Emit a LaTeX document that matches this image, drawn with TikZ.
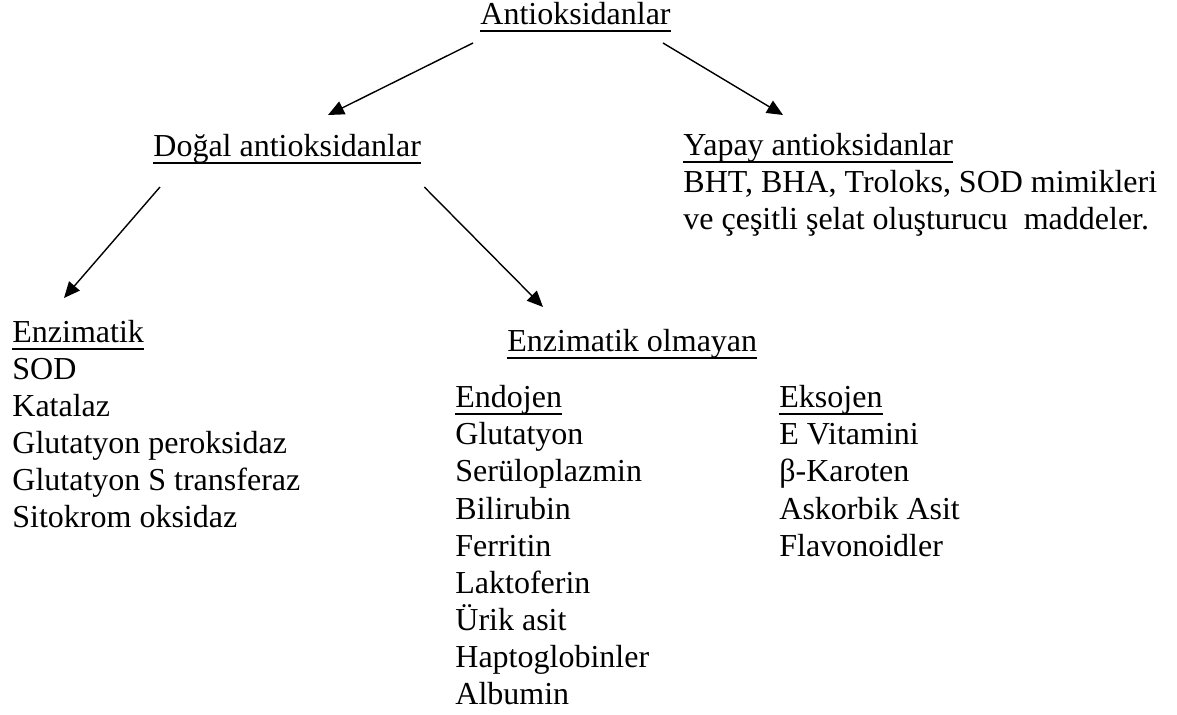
\documentclass[tikz,border=0pt]{standalone}
\usepackage{fontspec}
\setmainfont{Liberation Serif}
\usepackage{tikz}
\usetikzlibrary{arrows.meta}
\newsavebox\ulbox
\newcommand\ulin[1]{\sbox\ulbox{#1}\rlap{\rule[-3.3pt]{\wd\ulbox}{0.9pt}}\usebox\ulbox}

\begin{document}
\begin{tikzpicture}[x=0.5pt,y=-0.5pt,
    lbl/.style={anchor=base west,inner sep=0pt,font=\fontsize{16}{18.5}\selectfont},
    arr/.style={-{Triangle[length=8pt,width=7pt]},line width=0.7pt}]
  \useasboundingbox (0,0) rectangle (1177,715);

  % headings
  \node[lbl] (antiox) at (480,25) {\ulin{Antioksidanlar}};
  \node[lbl] (dogal) at (153,157) {\ulin{Doğal antioksidanlar}};
  \node[lbl] (yapay) at (683,156) {\ulin{Yapay antioksidanlar}};
  \node[lbl] (enzim) at (12,343) {\ulin{Enzimatik}};
  \node[lbl] (olmayan) at (507,352) {\ulin{Enzimatik olmayan}};
  \node[lbl] (endo) at (455,408) {\ulin{Endojen}};
  \node[lbl] (ekso) at (779,408) {\ulin{Eksojen}};

  % lists
  \foreach \t [count=\i] in {{BHT, BHA, Troloks, SOD mimikleri},
      ve çeşitli şelat oluşturucu\ \ maddeler.}
    \node[lbl] (yapay\i) at (683,{156+37*\i}) {\t};
  \foreach \t [count=\i] in {SOD,Katalaz,Glutatyon peroksidaz,
      Glutatyon S transferaz,Sitokrom oksidaz}
    \node[lbl] (enzim\i) at (12,{343+37*\i}) {\t};
  \foreach \t [count=\i] in {Glutatyon,Serüloplazmin,Bilirubin,Ferritin,
      Laktoferin,Ürik asit,Haptoglobinler,Albumin}
    \node[lbl] (endo\i) at (455,{408+37*\i}) {\t};
  \foreach \t [count=\i] in {E Vitamini,β-Karoten,Askorbik Asit,Flavonoidler}
    \node[lbl] (ekso\i) at (779,{408+37*\i}) {\t};

  % arrows
  \draw[arr] ([shift={(-7,18)}]antiox.base west) -- ([shift={(175,-42)}]dogal.base west);
  \draw[arr] ([shift={(-8,18)}]antiox.base east) -- ([shift={(100,-41)}]yapay.base west);
  \draw[arr] ([shift={(7,30)}]dogal.base west) -- ([shift={(52,-45)}]enzim.base west);
  \draw[arr] ([shift={(3,30)}]dogal.base east) -- ([shift={(36,-45)}]olmayan.base west);
\end{tikzpicture}
\end{document}
